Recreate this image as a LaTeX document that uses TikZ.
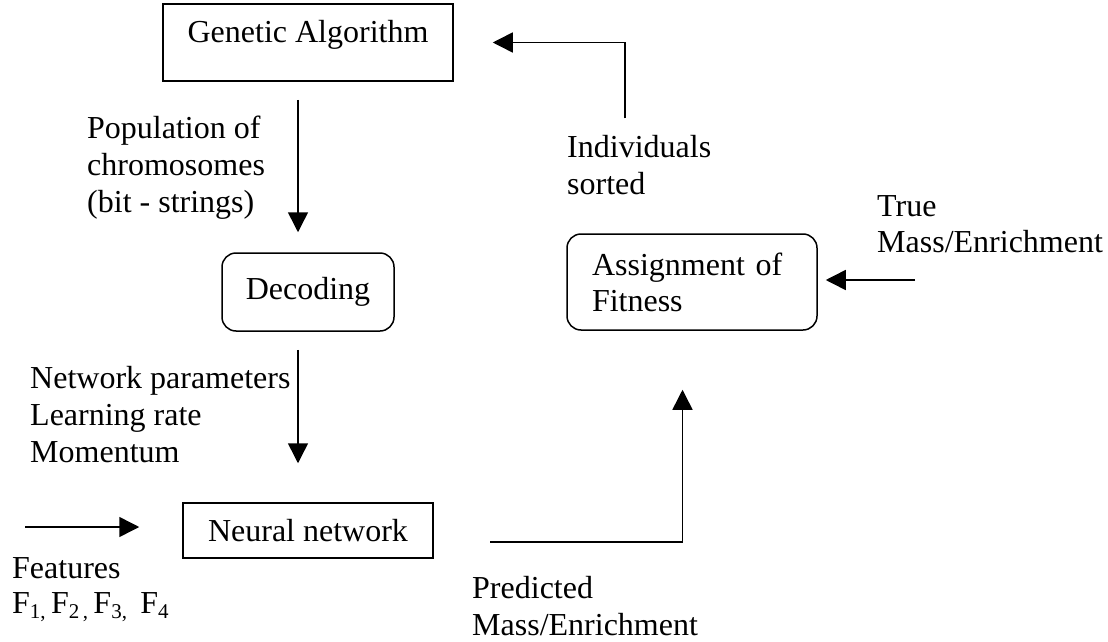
\documentclass[tikz,border=0pt]{standalone}
\usepackage{fontspec}
\setmainfont{Liberation Serif}
\usetikzlibrary{arrows.meta}
\newcommand{\fsub}[1]{\raisebox{-5pt}{\fontsize{21}{21}\selectfont #1}}
\begin{document}
\begin{tikzpicture}[x=1pt,y=-1pt,
  every node/.style={font=\fontsize{32}{37}\selectfont, inner sep=0pt},
  sqbox/.style={draw, line width=1.5pt},
  rbox/.style={draw, line width=1.5pt, rounded corners=14pt},
  lbl/.style={anchor=west, align=left},
  arr/.style={line width=1.5pt, -{Triangle[length=20pt,width=20pt]}}]
\useasboundingbox (0,0) rectangle (1108,642);

% boxes
\node[sqbox, minimum width=290pt, minimum height=77pt, text height=22pt, text depth=21pt] (ga) at (308,42.5) {Genetic Algorithm};
\node[rbox, minimum width=172pt, minimum height=78pt] (dec) at (308,292) {Decoding};
\node[sqbox, minimum width=250pt, minimum height=55pt] (nn) at (308,530.5) {Neural network};
\node[rbox, minimum height=96pt, text width=200pt, inner xsep=25pt, align=left, font=\fontsize{32}{36}\selectfont] (as) at (692,282) {Assignment of\\Fitness};

% labels
\node[lbl] (pop) at (87,168) {Population of\\chromosomes\\(bit - strings)};
\node[lbl] (net) at (30,414.5) {Network parameters\\Learning rate\\Momentum};
\node[lbl, font=\fontsize{32}{35}\selectfont] (feat) at (12,590) {Features\\F\fsub{1,}\,F\fsub{2\,,}\,F\fsub{3,}\ \,F\fsub{4}};
\node[lbl] (pred) at (472,606) {Predicted\\Mass/Enrichment};
\node[lbl] (ind) at (567,165.5) {Individuals\\sorted};
\node[lbl, font=\fontsize{32}{36}\selectfont] (tru) at (877,224) {True\\Mass/Enrichment};

% free ends
\coordinate (fstart) at (25,527);
\coordinate (pstart) at (490,542);
\coordinate (tstart) at (915,280);

% connectors
\draw[arr, shorten <=18pt, shorten >=20pt] ([xshift=-10pt]ga.south) -- ([xshift=-10pt]dec.north);
\draw[arr, shorten <=18pt, shorten >=39pt] ([xshift=-10pt]dec.south) -- ([xshift=-10pt]nn.north);
\draw[arr, shorten >=43pt] (fstart) -- (fstart -| nn.west);
\draw[arr, shorten >=59pt] (pstart) -| ([xshift=-9.5pt]as.south);
\draw[arr, shorten <=115pt, shorten >=39pt] ([xshift=-67pt]as.north) |- (ga.east);
\draw[arr, shorten >=8pt] (tstart) -- (tstart -| as.east);
\end{tikzpicture}
\end{document}
